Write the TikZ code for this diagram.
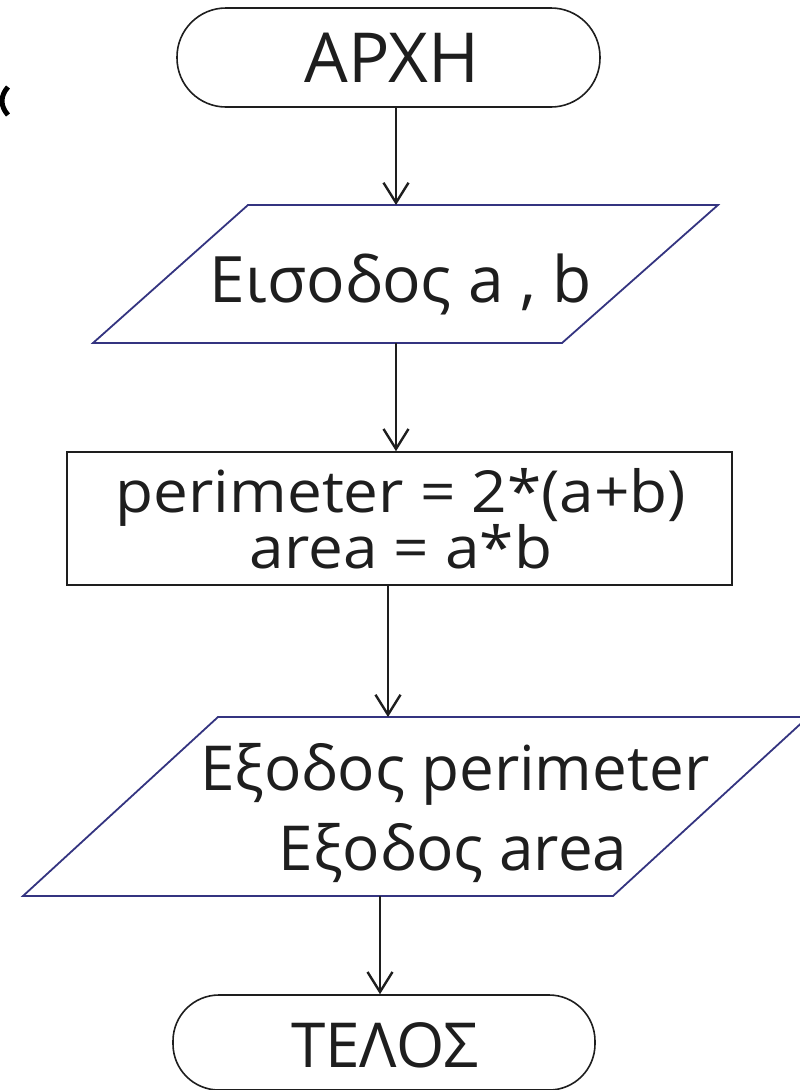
\documentclass[tikz,border=0pt]{standalone}
\usepackage{fontspec}
\setmainfont{Open Sans}
\newfontfamily\widefont{Open Sans}[FakeStretch=1.07]
\usetikzlibrary{arrows.meta,calc}
\definecolor{navy}{RGB}{52,52,128}
\definecolor{ink}{RGB}{30,30,30}
\newcommand{\calcfont}{\widefont\fontsize{58}{56}\selectfont\lineskiplimit -100pt\relax}
\begin{document}
\begin{tikzpicture}[x=1pt,y=-1pt,
  edge/.style={line width=1.6pt, draw=ink},
  para/.style={line width=1.8pt, draw=navy},
  conn/.style={line width=1.5pt, draw=ink, -{Straight Barb[length=20pt,width=25pt,line width=2.4pt]}},
  txt/.style={inner sep=0pt, anchor=base, text=ink, font=\fontsize{62}{70}\selectfont},
  bigtxt/.style={txt, font=\fontsize{69}{76}\selectfont}
]
\useasboundingbox (0,0) rectangle (800,1090);

% fragment at top-left
\draw[line width=5pt] (8,87) .. controls (0,96) and (0,106) .. (8,115);

% start terminal
\node[edge, rounded corners=49pt, minimum width=423pt, minimum height=99pt, inner sep=0pt] (start) at (388.5,57.5) {};
\node[bigtxt] (starttxt) at (392,82) {ΑΡΧΗ};

% input parallelogram
\draw[para] (248,205) -- (718,205) -- (562,343) -- (93,343) -- cycle;
\coordinate (in1) at (396,205);
\coordinate (out1) at (396,343);
\node[txt, font=\fontsize{64}{70}\selectfont] (inputtxt) at (401,302) {Εισοδος a , b};

% process box
\node[edge, minimum width=665pt, minimum height=133pt, inner sep=0pt] (calc) at (399.5,518.5) {};
\node[txt, align=center, font=\calcfont] (calctxt) at (401,568) {perimeter = 2*(a+b)\\area = a*b};

% output parallelogram
\draw[para] (218,717) -- (808,717) -- (613,896) -- (23,896) -- cycle;
\coordinate (in2) at (388,717);
\coordinate (out2) at (380,896);
\node[txt] (o1) at (455,790) {Εξοδος perimeter};
\node[txt] (o2) at (453,870) {Εξοδος area};

% stop terminal
\node[edge, rounded corners=46pt, minimum width=422pt, minimum height=95pt, inner sep=0pt] (stop) at (384,1042.5) {};
\node[txt] (stoptxt) at (385,1067) {ΤΕΛΟΣ};

% connectors
\draw[conn] (start.south -| in1) -- (in1);
\draw[conn] (out1) -- (out1 |- calc.north);
\draw[conn] (calc.south -| in2) -- (in2);
\draw[conn] (out2) -- (out2 |- stop.north);
\end{tikzpicture}
\end{document}
